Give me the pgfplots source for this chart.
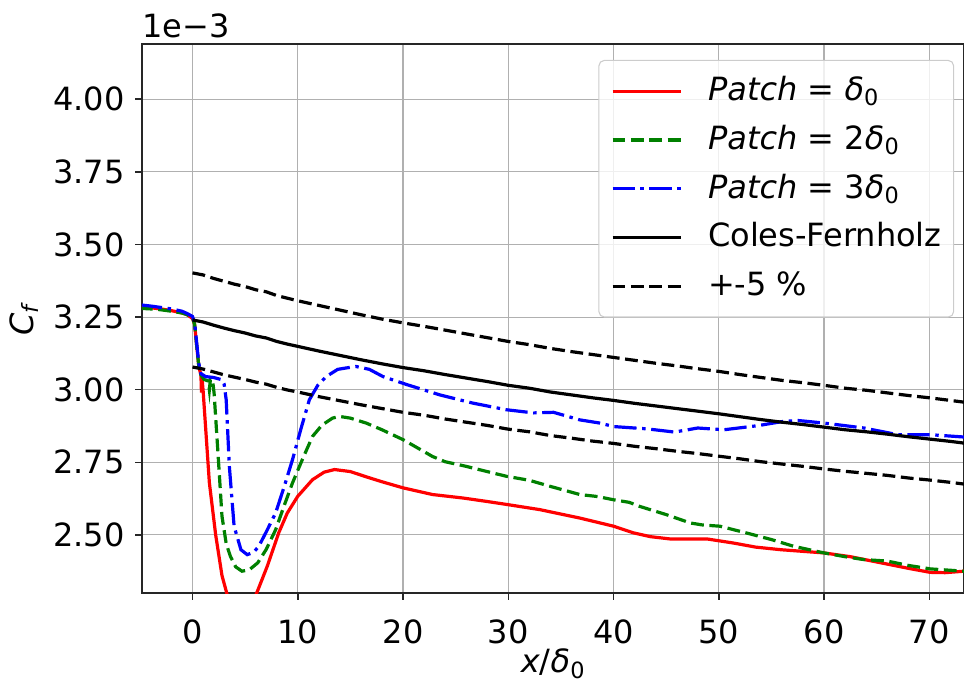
\documentclass[border=0pt]{standalone}
\usepackage{pgfplots}
\pgfplotsset{compat=1.18}
\usepackage{fontspec}
\setmainfont{DejaVu Sans}
\definecolor{mplgreen}{HTML}{008000}
\definecolor{gridgray}{HTML}{B0B0B0}
\definecolor{legframe}{HTML}{CCCCCC}
\begin{document}
\fontsize{24}{28}\selectfont
\begin{tikzpicture}
\begin{axis}[name=ax, scale only axis, width=616.5pt, height=411.75pt,
  xmin=-4.8, xmax=73.3, ymin=2.30, ymax=4.19,
  xtick={0,10,20,30,40,50,60,70},
  ytick={2.5,2.75,3,3.25,3.5,3.75,4},
  tick pos=left, tick align=outside, major tick length=5pt,
  tick style={line width=1.1pt, black!85},
  axis line style={line width=1.1pt, black!85},
  grid=major, major grid style={color=gridgray, line width=0.8pt},
  /pgf/number format/assume math mode=true,
  ticklabel style={font=\fontsize{24}{28}\selectfont},
  xticklabel style={yshift=-7pt},
  yticklabel style={/pgf/number format/.cd, fixed, fixed zerofill, precision=2},
  xlabel={\textit{x}/\textit{δ}\textsubscript{0}},
  ylabel={\textit{C}\textsubscript{\textit{f}}},
  label style={font=\fontsize{24}{28}\selectfont},
  xlabel style={at={(axis description cs:0.5,-0.1457)}, anchor=base},
  ylabel style={at={(axis description cs:-0.1326,0.5)}, anchor=base},
  legend cell align=left,
  legend style={at={(0.988,0.971)}, anchor=north east, draw=legframe, line width=0.8pt,
    rounded corners=4pt, fill=white, fill opacity=0.8, text opacity=1, draw opacity=1,
    font=\fontsize{24}{28}\selectfont, row sep=12.6pt, inner xsep=9pt, inner ysep=11pt,
    nodes={text height=19pt, text depth=5pt, inner xsep=0pt, inner ysep=0pt},
    /tikz/every odd column/.append style={column sep=19.5pt}},
  legend image code/.code={\draw[#1] (0pt,0pt) -- (51pt,0pt);},
  every axis plot/.append style={line width=2.4pt},
]
\addplot[red, solid] coordinates {
(-5,3.285) (-4,3.282) (-3,3.278) (-2,3.272) (-1,3.264) (-0.5,3.258) (0,3.245) (0.2,3.225) (0.4,3.15) (0.6,3.08) (0.8,3.05) (0.85,2.99) (0.9,3.04) (1.0,3.0) (1.6,2.68) (2.2,2.50) (2.8,2.36) (3.4,2.28) (4.0,2.22) (4.7,2.20) (5.3,2.22) (6.1,2.30) (7.1,2.392) (8.2,2.508) (9.0,2.575) (10,2.633) (11.4,2.690) (12.5,2.716) (13.5,2.725) (15,2.718) (16.5,2.70) (18,2.683) (20,2.662) (22.8,2.639) (25.7,2.627) (28,2.615) (30,2.604) (33,2.587) (36.8,2.558) (40,2.530) (41.9,2.507) (43.5,2.494) (45.4,2.486) (48.9,2.486) (51.4,2.472) (53.5,2.458) (55.9,2.449) (60,2.438) (62.5,2.425) (65.4,2.404) (68,2.385) (70.1,2.371) (71.5,2.370) (73.3,2.375)};
\addlegendentry{\textit{Patch} = \textit{δ}\textsubscript{0}}
\addplot[mplgreen, dash pattern=on 9.6pt off 4.2pt] coordinates {
(-5,3.28) (-4,3.278) (-3,3.275) (-2,3.27) (-1,3.264) (-0.5,3.258) (0,3.248) (0.2,3.225) (0.4,3.15) (0.6,3.08) (0.8,3.05) (1.1,3.035) (1.5,3.03) (1.6,3.0) (1.7,3.035) (1.9,3.035) (2.05,2.988) (2.4,2.793) (2.8,2.564) (3.2,2.47) (3.6,2.426) (4.1,2.39) (4.7,2.375) (5.4,2.38) (6.2,2.404) (7.0,2.45) (7.9,2.518) (8.7,2.6) (9.5,2.679) (10.5,2.765) (11.4,2.839) (12.3,2.878) (13.3,2.902) (13.95,2.908) (15,2.902) (16.5,2.885) (18,2.862) (20,2.828) (21.5,2.797) (22.8,2.770) (24,2.752) (26,2.736) (28,2.718) (29.8,2.702) (32,2.688) (34,2.667) (36.8,2.639) (38.5,2.632) (40,2.621) (41.5,2.612) (42.5,2.598) (45,2.57) (47.3,2.541) (48.5,2.534) (50.1,2.530) (52.6,2.507) (55,2.484) (57.1,2.461) (60,2.438) (62,2.425) (63.8,2.415) (66,2.41) (68,2.395) (70.1,2.383) (73.3,2.375)};
\addlegendentry{\textit{Patch} = 2\textit{δ}\textsubscript{0}}
\addplot[blue, dash pattern=on 16.7pt off 4.2pt on 2.6pt off 4.2pt] coordinates {
(-5,3.292) (-4,3.288) (-3,3.283) (-2,3.278) (-1,3.27) (-0.5,3.262) (0,3.252) (0.2,3.23) (0.4,3.16) (0.6,3.09) (0.8,3.055) (1.25,3.045) (2.0,3.042) (2.8,3.034) (3.0,3.02) (3.2,2.965) (3.5,2.736) (3.95,2.530) (4.6,2.449) (5.2,2.432) (5.8,2.44) (6.3,2.461) (7.0,2.51) (7.9,2.576) (8.7,2.665) (9.5,2.759) (10.3,2.865) (11.1,2.965) (11.9,3.015) (12.7,3.045) (13.8,3.07) (15.5,3.080) (16.8,3.07) (18.1,3.045) (20.4,3.017) (23.5,2.982) (26.6,2.954) (29.8,2.931) (32.4,2.920) (34.3,2.922) (36.8,2.896) (38.7,2.885) (40,2.873) (43.2,2.865) (45.8,2.854) (48,2.868) (50.5,2.862) (53.7,2.876) (56,2.89) (57.5,2.894) (60,2.885) (63.8,2.868) (67,2.845) (70.1,2.845) (73.3,2.837)};
\addlegendentry{\textit{Patch} = 3\textit{δ}\textsubscript{0}}
\addplot[black, solid] coordinates {
(0,3.24) (1,3.233) (2,3.222) (3,3.212) (4,3.203) (5,3.195) (6,3.185) (7,3.178) (8,3.166) (9,3.157) (10,3.149) (12,3.133) (14,3.118) (16,3.103) (18,3.089) (20,3.076) (22,3.065) (24,3.052) (26,3.04) (28,3.028) (30,3.015) (32,3.005) (34,2.992) (36,2.982) (38,2.972) (40,2.963) (42,2.953) (44,2.944) (46,2.935) (48,2.926) (50,2.917) (52,2.907) (54,2.897) (56,2.888) (58,2.880) (60,2.871) (62,2.862) (64,2.855) (66,2.847) (68,2.838) (70,2.830) (72,2.822) (73.3,2.816)};
\addlegendentry{Coles-Fernholz}
\addplot[black, dash pattern=on 9.6pt off 4.2pt] coordinates {
(0,3.402) (1,3.395) (2,3.383) (3,3.373) (4,3.363) (5,3.355) (6,3.344) (7,3.337) (8,3.324) (9,3.315) (10,3.306) (12,3.290) (14,3.274) (16,3.258) (18,3.243) (20,3.230) (22,3.218) (24,3.205) (26,3.192) (28,3.179) (30,3.166) (32,3.155) (34,3.142) (36,3.131) (38,3.121) (40,3.111) (42,3.101) (44,3.091) (46,3.082) (48,3.072) (50,3.063) (52,3.052) (54,3.042) (56,3.032) (58,3.024) (60,3.015) (62,3.005) (64,2.998) (66,2.989) (68,2.980) (70,2.972) (72,2.963) (73.3,2.957)};
\addlegendentry{+-5 \%}
\addplot[black, dash pattern=on 9.6pt off 4.2pt, forget plot] coordinates {
(0,3.078) (1,3.071) (2,3.061) (3,3.051) (4,3.043) (5,3.035) (6,3.026) (7,3.019) (8,3.008) (9,2.999) (10,2.992) (12,2.976) (14,2.962) (16,2.948) (18,2.935) (20,2.922) (22,2.912) (24,2.899) (26,2.888) (28,2.877) (30,2.864) (32,2.855) (34,2.842) (36,2.833) (38,2.823) (40,2.815) (42,2.805) (44,2.797) (46,2.788) (48,2.780) (50,2.771) (52,2.762) (54,2.752) (56,2.744) (58,2.736) (60,2.727) (62,2.719) (64,2.712) (66,2.705) (68,2.696) (70,2.689) (72,2.681) (73.3,2.675)};
\end{axis}
\node[anchor=base west, inner sep=0pt] at ([yshift=4.5pt]ax.north west) {1e−3};
\pgfresetboundingbox
\path[use as bounding box] (ax.south west) ++(-106.5pt,-66.75pt) rectangle ++(723pt,511.5pt);
\end{tikzpicture}
\end{document}
